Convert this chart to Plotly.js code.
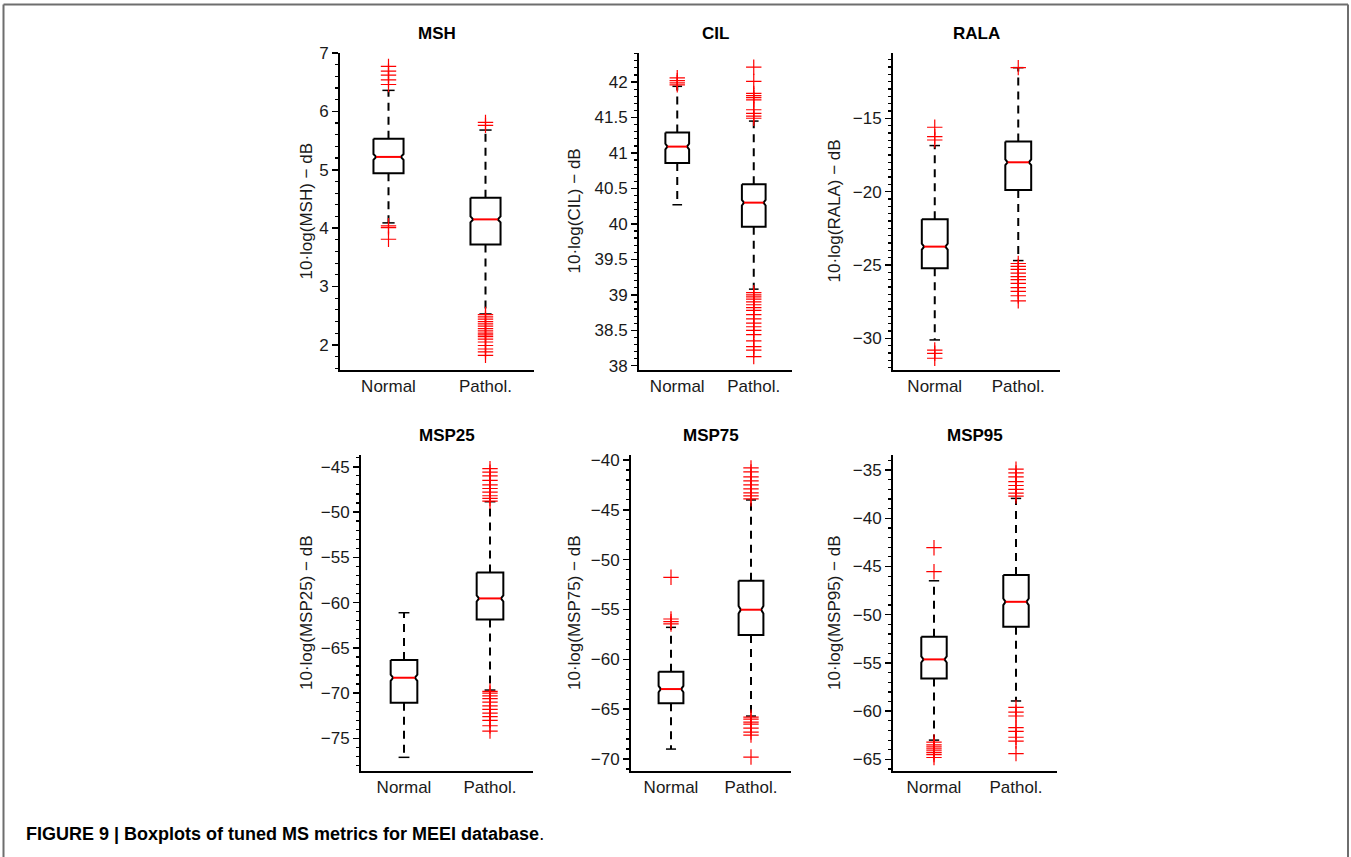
<!DOCTYPE html>
<html>
<head>
<meta charset="utf-8">
<script src="https://cdn.plot.ly/plotly-3.0.1.min.js"></script>
<style>html,body{margin:0;padding:0;background:#fff;}#chart{width:1351px;height:857px;}</style>
</head>
<body>
<div id="chart"></div>
<script>
// ---------------- DATA ----------------
const metrics = ['MSH', 'CIL', 'RALA', 'MSP25', 'MSP75', 'MSP95'];
const groups = ['Normal', 'Pathol.'];
const yLabels = ['10·log(MSH) − dB', '10·log(CIL) − dB', '10·log(RALA) − dB',
                 '10·log(MSP25) − dB', '10·log(MSP75) − dB', '10·log(MSP95) − dB'];

// [Normal, Pathol.]
const mshQ1 = [4.94, 3.72], mshMed = [5.22, 4.15], mshQ3 = [5.53, 4.52];
const mshLoW = [4.09, 2.53], mshHiW = [6.36, 5.68];
const mshNotchLo = [5.17, 4.10], mshNotchHi = [5.27, 4.20];
const mshOutNormal = [6.77, 6.69, 6.62, 6.54, 6.46, 4.04, 4.01, 3.81];
const mshOutPathol = [5.81, 5.76, 2.52, 2.48, 2.44, 2.40, 2.36, 2.32, 2.28, 2.24, 2.20, 2.17, 2.14, 2.10, 2.05, 1.99, 1.93, 1.88, 1.82];

const cilQ1 = [40.86, 39.96], cilMed = [41.09, 40.30], cilQ3 = [41.29, 40.56];
const cilLoW = [40.27, 39.08], cilHiW = [41.94, 41.45];
const cilNotchLo = [41.05, 40.26], cilNotchHi = [41.13, 40.34];
const cilOutNormal = [42.06, 42.02, 41.99, 41.96];
const cilOutPathol = [42.21, 42.01, 41.84, 41.81, 41.78, 41.75, 41.61, 41.56, 41.52, 41.49,
                      39.03, 39.00, 38.97, 38.94, 38.90, 38.86, 38.82, 38.78, 38.72, 38.66, 38.60, 38.55, 38.50, 38.44, 38.35, 38.27, 38.22, 38.13];

const ralaQ1 = [-25.23, -19.89], ralaMed = [-23.75, -18.00], ralaQ3 = [-21.89, -16.59];
const ralaLoW = [-30.11, -24.70], ralaHiW = [-16.86, -11.55];
const ralaNotchLo = [-23.95, -18.20], ralaNotchHi = [-23.55, -17.80];
const ralaOutNormal = [-15.61, -16.25, -16.48, -30.80, -31.02, -31.36];
const ralaOutPathol = [-11.55, -24.90, -25.10, -25.30, -25.55, -25.80, -26.00, -26.25, -26.55, -26.80, -27.10, -27.45];

const msp25Q1 = [-71.06, -61.86], msp25Med = [-68.30, -59.54], msp25Q3 = [-66.35, -56.67];
const msp25LoW = [-77.09, -69.66], msp25HiW = [-61.12, -48.86];
const msp25NotchLo = [-68.65, -59.88], msp25NotchHi = [-67.95, -59.20];
const msp25OutNormal = [];
const msp25OutPathol = [-45.2, -45.6, -46.0, -46.5, -47.0, -47.4, -47.8, -48.2, -48.5, -48.8,
                        -69.8, -70.0, -70.3, -70.6, -71.0, -71.4, -71.8, -72.2, -72.6, -73.0, -73.6, -74.2];

const msp75Q1 = [-64.41, -57.56], msp75Med = [-62.98, -55.02], msp75Q3 = [-61.24, -52.11];
const msp75LoW = [-69.00, -65.69], msp75HiW = [-56.79, -44.01];
const msp75NotchLo = [-63.30, -55.40], msp75NotchHi = [-62.66, -54.64];
const msp75OutNormal = [-51.77, -55.95, -56.22, -56.45];
const msp75OutPathol = [-40.8, -41.2, -41.7, -42.1, -42.5, -42.9, -43.3, -43.6, -43.9,
                        -65.8, -66.0, -66.3, -66.5, -66.9, -67.3, -67.6, -69.8];

const msp95Q1 = [-56.60, -51.25], msp95Med = [-54.63, -48.66], msp95Q3 = [-52.28, -45.89];
const msp95LoW = [-63.00, -58.94], msp95HiW = [-46.48, -37.94];
const msp95NotchLo = [-54.95, -49.00], msp95NotchHi = [-54.31, -48.32];
const msp95OutNormal = [-43.05, -45.54, -63.2, -63.5, -63.7, -63.9, -64.1, -64.3, -64.5, -64.8];
const msp95OutPathol = [-34.9, -35.3, -35.7, -36.2, -36.6, -37.0, -37.4, -37.7,
                        -59.6, -60.1, -60.5, -61.7, -62.1, -62.7, -63.1, -64.4];

const yRanges = [[1.57, 7.0], [37.94, 42.41], [-32.16, -10.55], [-78.6, -43.7], [-71.2, -39.5], [-66.2, -33.44]];
const yDticks = [1, 0.5, 5, 5, 5, 5];
const yMinor = [0.2, 0.1, 0.5, 1, 1, 1];

// ---------------- BUILD ----------------
const stats = [
  {q1: mshQ1, med: mshMed, q3: mshQ3, lo: mshLoW, hi: mshHiW, nlo: mshNotchLo, nhi: mshNotchHi, out: [mshOutNormal, mshOutPathol]},
  {q1: cilQ1, med: cilMed, q3: cilQ3, lo: cilLoW, hi: cilHiW, nlo: cilNotchLo, nhi: cilNotchHi, out: [cilOutNormal, cilOutPathol]},
  {q1: ralaQ1, med: ralaMed, q3: ralaQ3, lo: ralaLoW, hi: ralaHiW, nlo: ralaNotchLo, nhi: ralaNotchHi, out: [ralaOutNormal, ralaOutPathol]},
  {q1: msp25Q1, med: msp25Med, q3: msp25Q3, lo: msp25LoW, hi: msp25HiW, nlo: msp25NotchLo, nhi: msp25NotchHi, out: [msp25OutNormal, msp25OutPathol]},
  {q1: msp75Q1, med: msp75Med, q3: msp75Q3, lo: msp75LoW, hi: msp75HiW, nlo: msp75NotchLo, nhi: msp75NotchHi, out: [msp75OutNormal, msp75OutPathol]},
  {q1: msp95Q1, med: msp95Med, q3: msp95Q3, lo: msp95LoW, hi: msp95HiW, nlo: msp95NotchLo, nhi: msp95NotchHi, out: [msp95OutNormal, msp95OutPathol]}
];

// pixel geometry of each axes box [left, right, top, bottom]
const W = 1351, H = 857;
const boxesPx = [
  [340, 534, 53, 370], [639, 792, 53, 370], [893, 1060, 53, 370],
  [361, 533, 455, 771], [631, 791, 455, 771], [893, 1057, 455, 771]
];
const yLabelX = [306, 574, 834, 306, 574, 834];

const HW = 0.155;     // box half width (x units)
const ND = 0.028;     // notch depth
const CW = 0.063;     // whisker cap half width

const traces = [];
const layout = {
  width: W, height: H,
  margin: {l: 0, r: 0, t: 0, b: 0},
  paper_bgcolor: '#ffffff', plot_bgcolor: 'rgba(0,0,0,0)',
  showlegend: false,
  font: {family: 'Liberation Sans, Arial, sans-serif', size: 17, color: '#1a1a1a'},
  annotations: [], shapes: []
};

metrics.forEach((m, i) => {
  const s = stats[i];
  const xa = 'x' + (i === 0 ? '' : i + 1), ya = 'y' + (i === 0 ? '' : i + 1);
  const b = boxesPx[i];
  const common = {xaxis: xa, yaxis: ya, hoverinfo: 'skip', showlegend: false};
  groups.forEach((g, gi) => {
    const x = gi + 1;
    // whiskers (dashed)
    traces.push(Object.assign({type: 'scatter', mode: 'lines',
      x: [x, x, null, x, x], y: [s.q3[gi], s.hi[gi], null, s.q1[gi], s.lo[gi]],
      line: {color: '#000', width: 2, dash: '8px,6px'}}, common));
    // caps
    traces.push(Object.assign({type: 'scatter', mode: 'lines',
      x: [x - CW, x + CW, null, x - CW, x + CW], y: [s.hi[gi], s.hi[gi], null, s.lo[gi], s.lo[gi]],
      line: {color: '#000', width: 1.5}}, common));
    // notched box
    traces.push(Object.assign({type: 'scatter', mode: 'lines',
      x: [x - HW, x + HW, x + HW, x + HW - ND, x + HW, x + HW, x - HW, x - HW, x - HW + ND, x - HW, x - HW],
      y: [s.q3[gi], s.q3[gi], s.nhi[gi], s.med[gi], s.nlo[gi], s.q1[gi], s.q1[gi], s.nlo[gi], s.med[gi], s.nhi[gi], s.q3[gi]],
      line: {color: '#000', width: 2}}, common));
    // median
    traces.push(Object.assign({type: 'scatter', mode: 'lines',
      x: [x - HW + ND, x + HW - ND], y: [s.med[gi], s.med[gi]],
      line: {color: '#ff0000', width: 2}}, common));
    // outliers
    const o = s.out[gi];
    if (o.length) {
      traces.push(Object.assign({type: 'scatter', mode: 'markers',
        x: o.map(() => x), y: o,
        marker: {symbol: 'cross-thin', size: 11, color: '#ff0000', line: {color: '#ff0000', width: 1.2}}}, common));
    }
  });

  const xk = 'xaxis' + (i === 0 ? '' : i + 1), yk = 'yaxis' + (i === 0 ? '' : i + 1);
  layout[xk] = {
    domain: [b[0] / W, b[1] / W], anchor: ya, range: [0.5, 2.5],
    tickmode: 'array', tickvals: [1, 2], ticktext: groups, ticks: '',
    showline: true, linecolor: '#000', linewidth: 2, showgrid: false, zeroline: false,
    tickfont: {size: 17, color: '#1a1a1a'}, fixedrange: true
  };
  layout[yk] = {
    domain: [1 - b[3] / H, 1 - b[2] / H], anchor: xa, range: yRanges[i],
    dtick: yDticks[i], tick0: 0, ticks: 'outside', ticklen: 6, tickwidth: 1.5, tickcolor: '#000',
    minor: {dtick: yMinor[i], ticks: 'outside', ticklen: 3.5, tickwidth: 1.2, tickcolor: '#000', showgrid: false},
    showline: true, linecolor: '#000', linewidth: 2, showgrid: false, zeroline: false,
    tickfont: {size: 17, color: '#1a1a1a'}, fixedrange: true
  };
  // subplot title
  layout.annotations.push({
    text: '<b>' + m + '</b>', xref: 'paper', yref: 'paper',
    x: (b[0] + b[1]) / 2 / W, y: 1 - (b[2] - 20) / H, xanchor: 'center', yanchor: 'middle',
    showarrow: false, font: {size: 17, color: '#000'}
  });
  // y axis label
  layout.annotations.push({
    text: yLabels[i], xref: 'paper', yref: 'paper', textangle: -90,
    x: yLabelX[i] / W, y: 1 - (b[2] + b[3]) / 2 / H, xanchor: 'center', yanchor: 'middle',
    showarrow: false, font: {size: 17, color: '#1a1a1a'}
  });
});

// caption
layout.annotations.push({
  text: '<b>FIGURE 9 | Boxplots of tuned MS metrics for MEEI database</b>.',
  xref: 'paper', yref: 'paper', x: 24 / W, y: 1 - 834 / H, xanchor: 'left', yanchor: 'middle',
  showarrow: false, font: {size: 18, color: '#000', family: 'Liberation Sans, Arial, sans-serif'}
});

// outer frame (top, left, right)
const fr = {type: 'line', xref: 'paper', yref: 'paper', line: {color: '#6e6e6e', width: 2}};
layout.shapes.push(Object.assign({x0: 3.5 / W, x1: 1348 / W, y0: 1 - 4.5 / H, y1: 1 - 4.5 / H}, fr));
layout.shapes.push(Object.assign({x0: 3.5 / W, x1: 3.5 / W, y0: 1 - 4.5 / H, y1: 0}, fr));
layout.shapes.push(Object.assign({x0: 1348 / W, x1: 1348 / W, y0: 1 - 4.5 / H, y1: 0}, fr));

Plotly.newPlot('chart', traces, layout, {displayModeBar: false, staticPlot: true});
</script>
</body>
</html>
